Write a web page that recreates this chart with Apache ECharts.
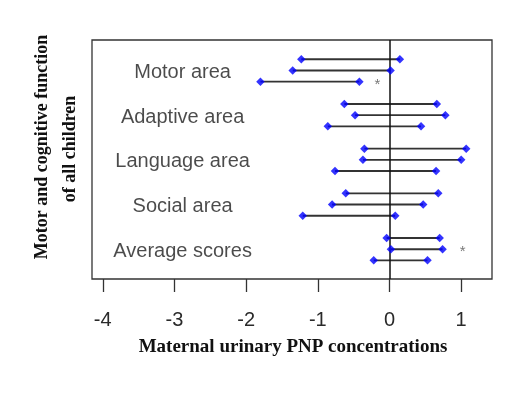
<!DOCTYPE html>
<html>
<head>
<meta charset="utf-8">
<script src="https://cdn.jsdelivr.net/npm/echarts@6/dist/echarts.min.js"></script>
<style>html,body{margin:0;padding:0;background:#fff}#c{width:527px;height:395px}</style>
</head>
<body>
<div id="c"></div>
<script>
var categories = ['Motor area', 'Adaptive area', 'Language area', 'Social area', 'Average scores'];
var lower = [-1.23, -1.35, -1.80, -0.63, -0.48, -0.86, -0.35, -0.37, -0.76, -0.61, -0.80, -1.21, -0.04, 0.02, -0.22];
var upper = [0.145, 0.015, -0.42, 0.66, 0.78, 0.44, 1.07, 1.00, 0.65, 0.68, 0.47, 0.08, 0.70, 0.74, 0.53];
var starRows = [2, 13];
var starX = [-0.17, 1.02];
var xTicks = [-4, -3, -2, -1, 0, 1];

var rowsPerGroup = 3;
var rowY = lower.map(function (v, i) { return Math.floor(i / rowsPerGroup) * 4 + (i % rowsPerGroup); });
var segData = lower.map(function (v, i) { return [lower[i], upper[i], rowY[i]]; });
var pts = [];
lower.forEach(function (v, i) { pts.push([lower[i], rowY[i]]); pts.push([upper[i], rowY[i]]); });
var labelX = -2.9;
var catData = categories.map(function (c, g) { return { value: [labelX, g * 4 + 1], name: c }; });
var starData = starRows.map(function (r, k) { return [starX[k], rowY[r]]; });

var chart = echarts.init(document.getElementById('c'));
chart.setOption({
  animation: false,
  grid: { left: 92, right: 35, top: 40, bottom: 116, show: true, borderColor: '#333', borderWidth: 1.3, backgroundColor: 'transparent' },
  xAxis: {
    type: 'value', min: -4.15, max: 1.43, position: 'bottom',
    axisLine: { show: false, onZero: false },
    splitLine: { show: false },
    axisTick: { show: true, inside: false, length: 13, lineStyle: { color: '#333', width: 1.3 }, customValues: xTicks },
    axisLabel: { show: true, margin: 31, fontSize: 20, color: '#2a2a2a', fontFamily: 'Liberation Sans', customValues: xTicks,
      formatter: function (v) { return String(v); } }
  },
  yAxis: { type: 'value', inverse: true, min: -1.73, max: 19.67, show: false },
  series: [
    {
      type: 'custom',
      data: segData,
      encode: { x: [0, 1], y: 2 },
      renderItem: function (params, api) {
        var a = api.coord([api.value(0), api.value(2)]);
        var b = api.coord([api.value(1), api.value(2)]);
        return { type: 'line', shape: { x1: a[0], y1: a[1], x2: b[0], y2: b[1] }, style: { stroke: '#333', lineWidth: 1.9 } };
      },
      markLine: {
        silent: true, symbol: 'none', label: { show: false },
        lineStyle: { color: '#111', width: 1.5, type: 'solid' },
        data: [{ xAxis: 0 }]
      }
    },
    {
      type: 'scatter', data: pts, symbol: 'diamond', symbolSize: 8.5,
      itemStyle: { color: '#0000ff' }, z: 5
    },
    {
      type: 'scatter', data: starData, symbolSize: 0,
      label: { show: true, formatter: '*', position: 'inside', fontSize: 15, color: '#555', fontFamily: 'Liberation Sans', offset: [0, 3] }
    },
    {
      type: 'scatter', data: catData, symbolSize: 0,
      label: { show: true, formatter: function (p) { return p.name; }, position: 'inside', fontSize: 20, color: '#1e1e1e', fontFamily: 'Liberation Sans', offset: [1, 2] }
    }
  ],
  graphic: [
    { type: 'text', x: 293, y: 347, style: { text: 'Maternal urinary PNP concentrations', font: 'bold 19px "Liberation Serif"', fill: '#111', textAlign: 'center', textVerticalAlign: 'middle' } },
    { type: 'text', x: 42, y: 147, rotation: Math.PI / 2, style: { text: 'Motor and cognitive function', font: 'bold 18px "Liberation Serif"', fill: '#111', textAlign: 'center', textVerticalAlign: 'middle' } },
    { type: 'text', x: 70, y: 149, rotation: Math.PI / 2, style: { text: 'of all children', font: 'bold 18px "Liberation Serif"', fill: '#111', textAlign: 'center', textVerticalAlign: 'middle' } }
  ]
});
</script>
</body>
</html>
